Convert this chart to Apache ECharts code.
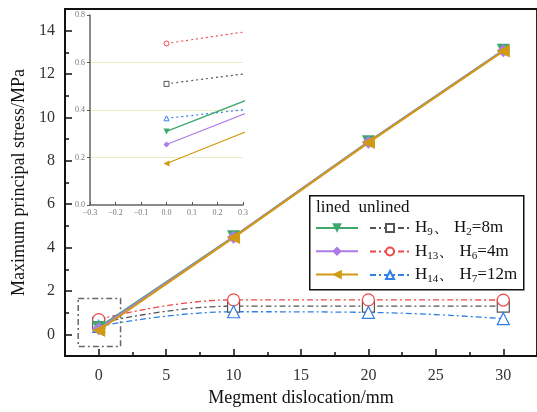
<!DOCTYPE html>
<html><head><meta charset="utf-8">
<script src="https://cdn.jsdelivr.net/npm/echarts@6/dist/echarts.min.js"></script>
<style>html,body{margin:0;padding:0;background:#fff}#c{width:537px;height:412px}</style>
</head><body><div id="c"></div>
<script>
// ---- data ----
const dislocation = [0, 10, 20, 30];
const linedH9  = [0.31, 4.50, 8.88, 13.10];
const linedH13 = [0.255, 4.48, 8.86, 13.08];
const linedH14 = [0.175, 4.46, 8.84, 13.06];
const unlinedH2 = [0.51, 1.30, 1.30, 1.30];
const unlinedH6 = [0.68, 1.59, 1.59, 1.58];
const unlinedH7 = [0.365, 1.04, 1.01, 0.72];
const xMajorTicks = [0, 5, 10, 15, 20, 25, 30];
const xMinorTicks = [-2.5, 2.5, 7.5, 12.5, 17.5, 22.5, 27.5, 32.5];
const yMajorTicks = [0, 2, 4, 6, 8, 10, 12, 14];
const yMinorTicks = [-1, 1, 3, 5, 7, 9, 11, 13, 15];
const insetXTicks = [-0.3, -0.2, -0.1, 0, 0.1, 0.2, 0.3];
const insetYTicks = [0, 0.2, 0.4, 0.6, 0.8];

const pairs = arr => dislocation.map((x, i) => [x, arr[i]]);
const serif = 'Liberation Serif';
const C = {g:'#3da86c', p:'#ad7be6', o:'#d09a12', k:'#555555', r:'#f04848', b:'#2f7fe6'};
const dashDot = [6, 3, 2, 3];

const seriesDefs = [
  {name:'L9', data:linedH9, color:C.g, symbol:'triangle', rot:180, lined:true},
  {name:'L13', data:linedH13, color:C.p, symbol:'diamond', rot:0, lined:true},
  {name:'L14', data:linedH14, color:C.o, symbol:'triangle', rot:90, lined:true},
  {name:'U2', data:unlinedH2, color:C.k, symbol:'rect', rot:0, lined:false},
  {name:'U6', data:unlinedH6, color:C.r, symbol:'circle', rot:0, lined:false},
  {name:'U7', data:unlinedH7, color:C.b, symbol:'triangle', rot:0, lined:false}
];
const legendText = {
  U2: '{n|H}{s|9}{n|、 H}{s|2}{n|=8m}',
  U6: '{n|H}{s|13}{n|、 H}{s|6}{n|=4m}',
  U7: '{n|H}{s|14}{n|、 H}{s|7}{n|=12m}'
};

function mk(d, inset) {
  const s = {
    name: d.name, type:'line', data: pairs(d.data),
    xAxisIndex: inset ? 4 : 0, yAxisIndex: inset ? 4 : 0,
    symbol: d.symbol, symbolRotate: d.rot,
    symbolSize: inset ? (d.lined ? 6 : 5) : (d.lined ? 13 : 12),
    smooth: d.lined ? false : 0.45,
    color: d.color,
    itemStyle: d.lined ? {color:d.color} : {color:'#fff', borderColor:d.color, borderWidth: inset ? 1 : 1.2},
    lineStyle: d.lined ? {color:d.color, width: inset ? 1.2 : 2} :
      {color:d.color, width: inset ? 1.2 : 1.3, type: inset ? [2,3] : dashDot},
    z: d.lined ? 4 : 3,
    clip: true, animation:false
  };
  if (!inset && d.lined) s.z = 5 + ['L9','L13','L14'].indexOf(d.name);
  if (!inset && d.name === 'U2') {
    s.markArea = {silent:true, itemStyle:{color:'rgba(0,0,0,0)', borderColor:'#666', borderWidth:1.5, borderType:[6,3,2,3]},
      data:[[{coord:[-1.52, 1.65]}, {coord:[1.62, -0.56]}]]};
  }
  return s;
}

const series = [];
seriesDefs.forEach(d => series.push(mk(d, false)));
seriesDefs.forEach(d => { const s = mk(d, true); s.name = d.name + '_in'; series.push(s); });

const mainAxisLine = {show:true, onZero:false, lineStyle:{color:'#111', width:1.8}};
const option = {
  backgroundColor:'#fff',
  animation:false,
  grid:[
    {left:65, top:9, width:476, height:350, show:true, borderColor:'#111', borderWidth:1.8, backgroundColor:'transparent'},
    {left:90, top:15, width:153, height:190}
  ],
  xAxis:[
    {type:'value', gridIndex:0, min:-2.5, max:32.5, position:'bottom',
     name:'Megment dislocation/mm', nameLocation:'middle', nameGap:33,
     nameTextStyle:{fontFamily:serif, fontSize:18, color:'#111'},
     axisLine:mainAxisLine, splitLine:{show:false},
     axisTick:{show:true, inside:true, length:7, lineStyle:{color:'#111', width:1.5}, customValues:xMajorTicks},
     axisLabel:{fontFamily:serif, fontSize:16, color:'#333', margin:12, customValues:xMajorTicks}},
    {type:'value', gridIndex:0, min:-2.5, max:32.5, position:'bottom',
     axisLine:{show:false, onZero:false}, splitLine:{show:false}, axisLabel:{show:false},
     axisTick:{show:true, inside:true, length:4, lineStyle:{color:'#111', width:1.5}, customValues:xMinorTicks}},
    {type:'value', gridIndex:0, min:-2.5, max:32.5, show:false},
    {type:'value', gridIndex:0, min:-2.5, max:32.5, show:false},
    {type:'value', gridIndex:1, min:-0.3, max:0.3,
     axisLine:{show:true, onZero:false, lineStyle:{color:'#666', width:1.5}}, splitLine:{show:false},
     axisTick:{show:true, inside:true, length:3, lineStyle:{color:'#555'}, customValues:insetXTicks},
     axisLabel:{fontFamily:serif, fontSize:8, color:'#777', margin:4, customValues:insetXTicks,
       formatter: v => (v < 0 ? '\u2212' : '') + Math.abs(v).toFixed(1)}}
  ],
  yAxis:[
    {type:'value', gridIndex:0, min:-1, max:15, position:'left',
     name:'Maximum principal stress/MPa', nameLocation:'middle', nameGap:29,
     nameTextStyle:{fontFamily:serif, fontSize:18, color:'#111'},
     axisLine:mainAxisLine, splitLine:{show:false},
     axisTick:{show:true, inside:true, length:7, lineStyle:{color:'#111', width:1.5}, customValues:yMajorTicks},
     axisLabel:{fontFamily:serif, fontSize:16, color:'#333', margin:10, customValues:yMajorTicks}},
    {type:'value', gridIndex:0, min:-1, max:15, position:'left',
     axisLine:{show:false, onZero:false}, splitLine:{show:false}, axisLabel:{show:false},
     axisTick:{show:true, inside:true, length:4, lineStyle:{color:'#111', width:1.5}, customValues:yMinorTicks}},
    {type:'value', gridIndex:0, min:-1, max:15, show:false},
    {type:'value', gridIndex:0, min:-1, max:15, show:false},
    {type:'value', gridIndex:1, min:0, max:0.8,
     axisLine:{show:true, onZero:false, lineStyle:{color:'#666', width:1.5}},
     splitLine:{show:true, showMinLine:false, showMaxLine:false, lineStyle:{color:'#e6f0c4', width:1}},
     axisTick:{show:true, inside:false, length:3, lineStyle:{color:'#555'}, customValues:insetYTicks},
     axisLabel:{fontFamily:serif, fontSize:8, color:'#777', margin:5, customValues:insetYTicks,
       formatter: v => v.toFixed(1)}}
  ],
  legend:[
    {left:310, top:217, orient:'vertical', itemWidth:42, itemHeight:12, itemGap:12.5,
     data:['L9','L13','L14'], formatter:() => '', selectedMode:false, textStyle:{fontSize:1}},
    {left:364, top:214, orient:'vertical', itemWidth:40, itemHeight:10, itemGap:4.5, selectedMode:false,
     data:['U2','U6','U7'], formatter: n => legendText[n],
     textStyle:{fontFamily:serif, color:'#111', rich:{
       n:{fontFamily:serif, fontSize:17, color:'#111', lineHeight:20},
       s:{fontFamily:serif, fontSize:11, color:'#111', lineHeight:20, verticalAlign:'bottom', padding:[8,0,0,0]}
     }}}
  ],
  graphic:[
    {type:'rect', left:309, top:195, z:-1,
     shape:{width:214, height:94}, style:{fill:'#fff', stroke:'#111', lineWidth:1.5}},
    {type:'text', left:316, top:199, z:10,
     style:{text:'lined  unlined', fontFamily:serif, fontSize:17, fill:'#111'}}
  ],
  series: series
};
const chart = echarts.init(document.getElementById('c'), null, {renderer:'canvas'});
chart.setOption(option);
</script></body></html>
